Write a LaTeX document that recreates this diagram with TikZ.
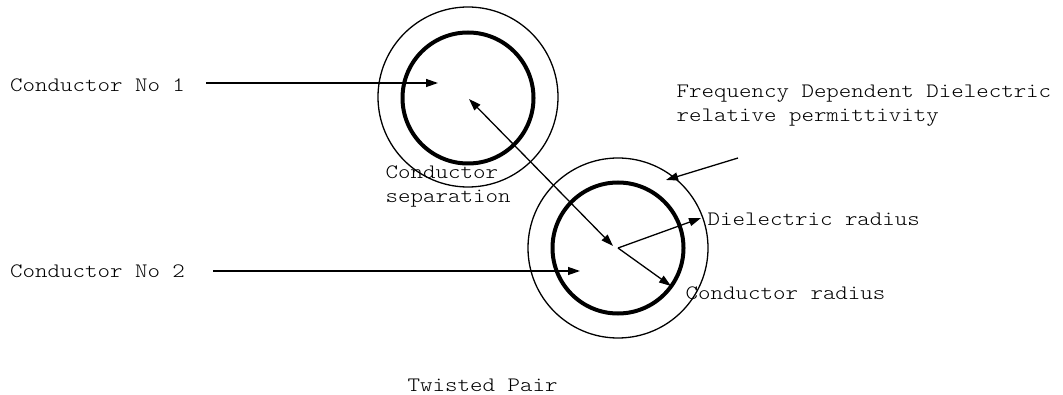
\documentclass[tikz,border=0pt]{standalone}
\usepackage{fontspec}
\newfontfamily\courfont[FakeStretch=1.16]{Latin Modern Mono Light}
\usetikzlibrary{arrows.meta}
\begin{document}
\begin{tikzpicture}[x=1pt,y=-1pt,
  lbl/.style={anchor=base west,inner sep=0pt,align=left,font=\courfont\fontsize{20.5pt}{24pt}\selectfont},
  thinring/.style={circle,draw,line width=1.3pt,inner sep=0pt},
  thickring/.style={circle,draw,line width=4pt,inner sep=0pt},
  arr/.style={line width=1.3pt,-{Triangle[length=12pt,width=8pt]}},
  darr/.style={line width=1.3pt,{Triangle[length=12pt,width=8pt]}-{Triangle[length=12pt,width=8pt]}}]
\useasboundingbox (0,0) rectangle (1063,395);
% conductor 1
\node[thinring,minimum size=180pt] (d1) at (468,97) {};
\node[thickring,minimum size=131pt] (c1) at (468,98) {};
% conductor 2
\node[thinring,minimum size=180pt] (d2) at (618,248) {};
\node[thickring,minimum size=131pt] (c2) at (618,248) {};
% labels
\node[lbl] (l1) at (10,92) {Conductor No 1};
\node[lbl] (l2) at (10,278) {Conductor No 2};
\node[lbl] (lsep) at (385.5,203) {Conductor\\separation};
\node[lbl] (lfreq) at (676.5,122) {Frequency Dependent Dielectric\\relative permittivity};
\node[lbl] (ldiel) at (707.5,226) {Dielectric radius};
\node[lbl] (lcond) at (685.5,300) {Conductor radius};
\node[lbl] (ltw) at (407.5,391) {Twisted Pair};
% connector end points
\coordinate (a1s) at (206,83);
\coordinate (a1e) at (438,83);
\coordinate (a2s) at (213,271);
\coordinate (a2e) at (580,271);
\coordinate (sepA) at (469,99);
\coordinate (sepB) at (613,246);
\coordinate (o2) at (618,248);
\coordinate (dielE) at (701,218);
\coordinate (condE) at (671,286);
\coordinate (fs) at (738,158);
\coordinate (fe) at (666,180);
% connectors
\draw[arr] (a1s) -- (a1e);
\draw[arr] (a2s) -- (a2e);
\draw[darr] (sepA) -- (sepB);
\draw[arr] (o2) -- (dielE);
\draw[arr] (o2) -- (condE);
\draw[arr] (fs) -- (fe);
\end{tikzpicture}
\end{document}
